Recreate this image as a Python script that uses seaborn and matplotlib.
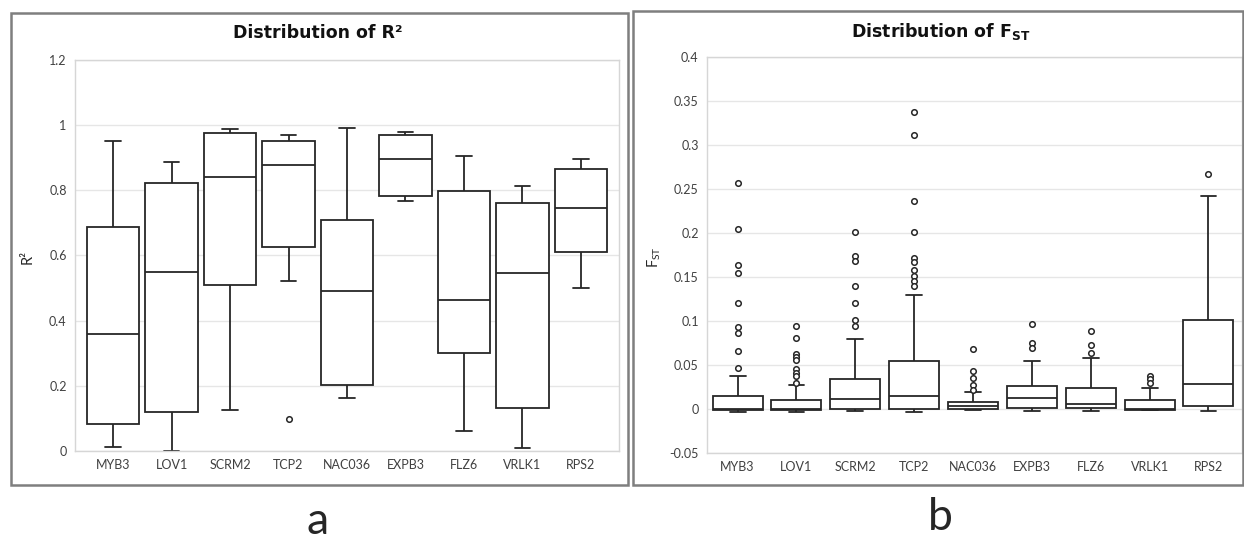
import numpy as np
import pandas as pd
import seaborn as sns
import matplotlib.pyplot as plt
from matplotlib.patches import Rectangle
from matplotlib.ticker import FuncFormatter

genes = ["MYB3", "LOV1", "SCRM2", "TCP2", "NAC036", "EXPB3", "FLZ6", "VRLK1", "RPS2"]

# panel a: R2 box statistics
r2_low = [0.011, 0.001, 0.125, 0.521, 0.162, 0.766, 0.060, 0.009, 0.500]
r2_q1 = [0.084, 0.121, 0.509, 0.627, 0.202, 0.783, 0.301, 0.133, 0.612]
r2_med = [0.358, 0.550, 0.840, 0.878, 0.491, 0.895, 0.462, 0.546, 0.746]
r2_q3 = [0.688, 0.821, 0.975, 0.950, 0.710, 0.970, 0.797, 0.761, 0.866]
r2_high = [0.951, 0.888, 0.988, 0.970, 0.991, 0.978, 0.906, 0.813, 0.896]
r2_out = [[], [], [], [0.098], [], [], [], [], []]

# panel b: FST box statistics
fst_low = [-0.003, -0.003, -0.002, -0.003, -0.0015, -0.002, -0.0026, -0.0015, -0.0026]
fst_q1 = [-0.0015, -0.0015, 0.0, 0.0, -0.0005, 0.0008, 0.0008, -0.0008, 0.003]
fst_med = [0.0, 0.0005, 0.011, 0.015, 0.0038, 0.0128, 0.0056, 0.0, 0.028]
fst_q3 = [0.0147, 0.0105, 0.034, 0.054, 0.008, 0.0256, 0.0244, 0.0102, 0.1008]
fst_high = [0.038, 0.027, 0.080, 0.130, 0.0195, 0.0545, 0.0575, 0.0244, 0.2417]
fst_out = [
    [0.257, 0.205, 0.164, 0.155, 0.121, 0.093, 0.086, 0.066, 0.047],
    [0.094, 0.081, 0.062, 0.059, 0.056, 0.045, 0.041, 0.037, 0.0295],
    [0.201, 0.174, 0.168, 0.140, 0.121, 0.101, 0.094],
    [0.338, 0.311, 0.236, 0.201, 0.172, 0.167, 0.158, 0.151, 0.146, 0.140],
    [0.068, 0.043, 0.035, 0.027, 0.022],
    [0.097, 0.075, 0.069],
    [0.089, 0.073, 0.064],
    [0.038, 0.034, 0.030],
    [0.267],
]


def box_sample(low, q1, med, q3, high, outliers):
    # smallest sample (4j+1 values) whose quartiles/whiskers equal the read values
    below = [v for v in outliers if v < med]
    above = [v for v in outliers if v > med]
    j = max(len(below), len(above)) + 1
    return (below + [low] + [q1] * (j - len(below)) + [med] * j
            + [q3] * (2 * j - len(above) - 1) + [high] + above)


def long_table(low, q1, med, q3, high, outs):
    rows = []
    for g, *stats in zip(genes, low, q1, med, q3, high, outs):
        for v in box_sample(*stats):
            rows.append((g, v))
    return pd.DataFrame(rows, columns=["gene", "value"])


sns.set_style("white")
plt.rcParams["font.family"] = ["Lato", "DejaVu Sans"]
plt.rcParams["mathtext.fontset"] = "custom"
plt.rcParams["mathtext.rm"] = "Lato"
plt.rcParams["mathtext.bf"] = "DejaVu Sans:bold"

W, H = 1244, 548
fig = plt.figure(figsize=(W / 100, H / 100), dpi=100)

line_col = "#262626"


def draw(ax, df, ylim, yticks, width, cap):
    sns.boxplot(data=df, x="gene", y="value", order=genes, ax=ax,
                color="white", linecolor=line_col, linewidth=1.3,
                width=width, whis=1.5, fliersize=4,
                flierprops=dict(marker="o", markerfacecolor="white",
                                markeredgecolor=line_col, markeredgewidth=1.1))
    # shorter whisker caps, like the Excel original
    for ln in ax.lines:
        x = np.asarray(ln.get_xdata(), float)
        y = np.asarray(ln.get_ydata(), float)
        if len(x) == 2 and y[0] == y[1] and abs(x[1] - x[0]) < 0.8 * width:
            c = x.mean()
            ln.set_xdata([c - cap / 2, c + cap / 2])
    ax.set_ylim(*ylim)
    ax.set_yticks(yticks)
    ax.yaxis.set_major_formatter(FuncFormatter(lambda v, p: f"{v:g}"))
    ax.grid(axis="y", color="#e6e6e6", linewidth=1)
    ax.set_axisbelow(True)
    for s in ax.spines.values():
        s.set_color("#d6d6d6")
        s.set_linewidth(1)
    ax.tick_params(length=0, labelsize=9, colors="#404040", pad=6)
    ax.set_xlabel("")
    ax.set_ylabel("")


ax1 = fig.add_axes([75 / W, 1 - 451 / H, 544 / W, 391 / H])
draw(ax1, long_table(r2_low, r2_q1, r2_med, r2_q3, r2_high, r2_out),
     (0, 1.2), np.arange(0, 1.21, 0.2), 0.89, 0.26)
ax1.set_xlim(-0.65, 8.65)

ax2 = fig.add_axes([707 / W, 1 - 453 / H, 535 / W, 396 / H])
draw(ax2, long_table(fst_low, fst_q1, fst_med, fst_q3, fst_high, fst_out),
     (-0.05, 0.4), np.arange(-0.05, 0.401, 0.05), 0.85, 0.27)
ax2.set_xlim(-0.52, 8.57)

# titles and axis labels
fig.text(318 / W, 1 - 33 / H, "Distribution of R²", ha="center", va="center",
         fontsize=12.5, fontweight="bold", family="DejaVu Sans", color="#111111")
fig.text(941 / W, 1 - 32 / H, r"Distribution of F$_{\mathbf{ST}}$", ha="center",
         va="center", fontsize=12.5, fontweight="bold", family="DejaVu Sans",
         color="#111111")
fig.text(28 / W, 1 - 257 / H, "R²", rotation=90, ha="center", va="center",
         fontsize=10.5, color="#262626")
fig.text(654 / W, 1 - 257 / H, r"F$_{\mathrm{ST}}$", rotation=90, ha="center",
         va="center", fontsize=10.5, color="#262626")

# panel frames
fig.add_artist(Rectangle((11 / W, 1 - 485 / H), 617 / W, 472 / H,
                         transform=fig.transFigure, fill=False,
                         edgecolor="#7f7f7f", linewidth=1.8))
fig.add_artist(Rectangle((633 / W, 1 - 485 / H), 610 / W, 474 / H,
                         transform=fig.transFigure, fill=False,
                         edgecolor="#7f7f7f", linewidth=1.8))

# panel letters
fig.text(318 / W, 1 - 522 / H, "a", ha="center", va="center", fontsize=32)
fig.text(940 / W, 1 - 518 / H, "b", ha="center", va="center", fontsize=32)

fig.savefig("out.png", dpi=100)
